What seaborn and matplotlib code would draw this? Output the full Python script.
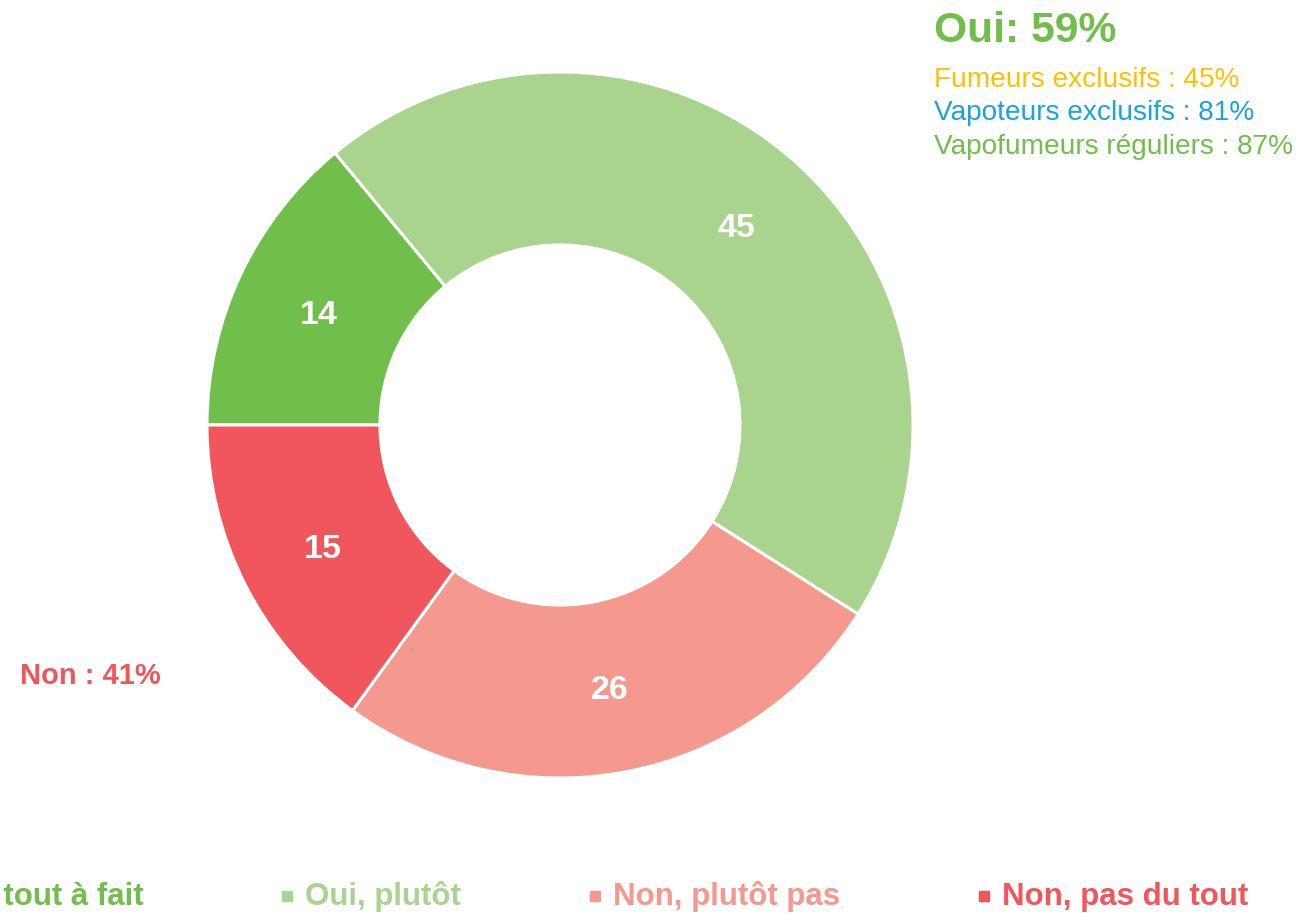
import matplotlib
matplotlib.use("Agg")
import matplotlib.pyplot as plt
import seaborn as sns

# ─────────────────────────────────────────
# DATA
# ─────────────────────────────────────────
categories = ["Oui, tout à fait", "Oui, plutôt", "Non, plutôt pas", "Non, pas du tout"]
values     = [14, 45, 26, 15]
colors     = ["#70BF4B", "#A9D48D", "#F5988D", "#F0565B"]

oui_total  = 59
non_total  = 41
sub_labels = ["Fumeurs exclusifs", "Vapoteurs exclusifs", "Vapofumeurs réguliers"]
sub_values = [45, 81, 87]
sub_colors = ["#FFC000", "#1AA3DD", "#70BF4B"]

sns.set_theme(style="white")
plt.rcParams["font.family"] = ["Liberation Sans", "DejaVu Sans"]

W, H = 1306, 922
fig = plt.figure(figsize=(W / 100, H / 100), dpi=100)
ax = fig.add_axes([0, 0, 1, 1])

# donut (pixel coords, y up)
cx, cy, R = 560, H - 425, 353
wedges, texts, autotexts = ax.pie(
    values, colors=colors, startangle=180, counterclock=False,
    center=(cx, cy), radius=R,
    wedgeprops=dict(width=R * 0.49, edgecolor="white", linewidth=2.2),
    autopct=lambda p: f"{p:.0f}", pctdistance=0.755,
    textprops=dict(color="white", fontsize=24.5, fontweight="bold"),
)
for t in autotexts:
    t.set_va("center_baseline")

ax.set_xlim(0, W)
ax.set_ylim(0, H)
ax.set_aspect("equal")
ax.axis("off")

# right-hand annotation
ax.text(934, H - 31, f"Oui: {oui_total}%", color="#70BF4B", fontsize=30.7,
        fontweight="bold", ha="left", va="center")
for i, (lab, v, c) in enumerate(zip(sub_labels, sub_values, sub_colors)):
    ax.text(934, H - (80 + i * 33.5), f"{lab} : {v}%", color=c, fontsize=20.2,
            ha="left", va="center")

ax.text(20, H - 676, f"Non : {non_total}%", color="#F0565B", fontsize=21,
        fontweight="bold", ha="left", va="center")

# bottom legend (first entry runs off the left edge, as in the source)
leg_x = [-66, 305, 613, 1002]
for x, lab, c in zip(leg_x, categories, colors):
    ax.plot([x - 18], [H - 896], marker="s", markersize=7.9, color=c,
            linestyle="none", clip_on=False)
    ax.text(x, H - 905, lab, color=c, fontsize=22.5, fontweight="bold",
            ha="left", va="baseline")

fig.savefig("out.png", dpi=100)
